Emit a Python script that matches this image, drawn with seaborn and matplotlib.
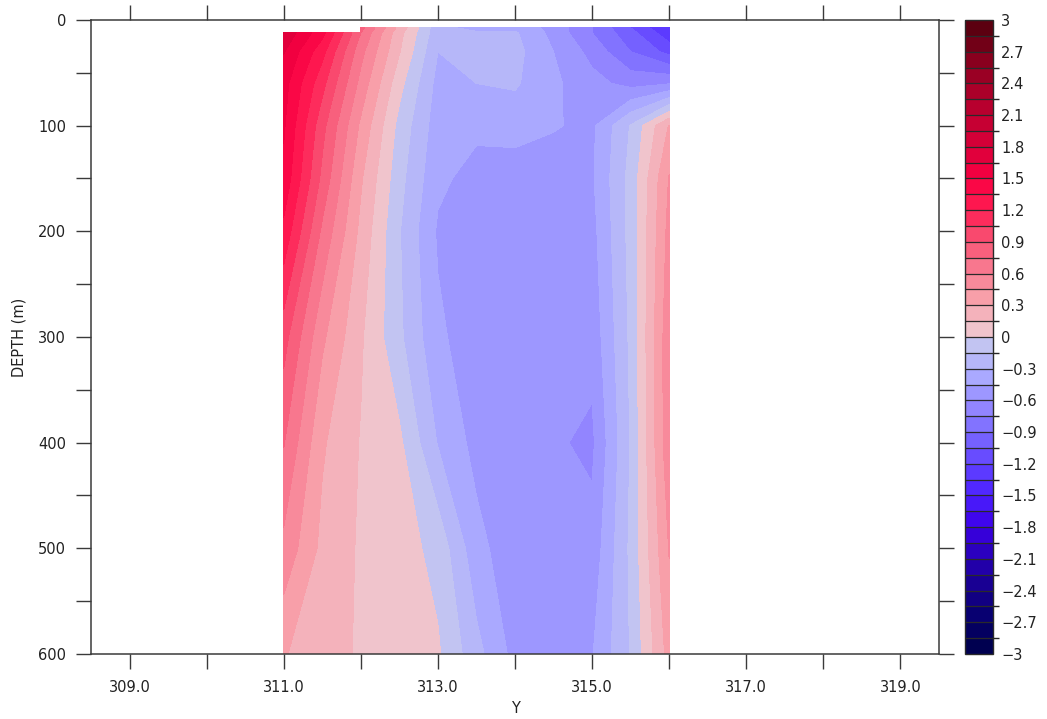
import numpy as np
import matplotlib
matplotlib.use("Agg")
import matplotlib.pyplot as plt
import seaborn as sns

# ---- section coordinates ----
y_pos = [311.0, 311.5, 312.0, 312.5, 313.0, 313.5, 314.0, 314.5, 315.0, 315.5, 316.0]
depth = [7.5, 12, 30, 60, 100, 150, 200, 300, 400, 500, 600]

# ---- field values, one row per depth level (NaN = no data) ----
nan = np.nan
row_d7 = [nan, nan, 0.80, 0.25, -0.25, -0.35, -0.35, -0.50, -0.75, -1.05, -1.35]
row_d12 = [1.77, 1.40, 0.75, 0.20, -0.25, -0.28, -0.28, -0.50, -0.75, -1.00, -1.30]
row_d30 = [1.66, 1.25, 0.65, 0.16, -0.30, -0.25, -0.25, -0.45, -0.65, -0.90, -1.10]
row_d60 = [1.56, 1.10, 0.55, 0.05, -0.35, -0.30, -0.28, -0.42, -0.55, -0.65, -0.61]
row_d100 = [1.52, 0.95, 0.42, -0.05, -0.38, -0.42, -0.40, -0.44, -0.48, -0.14, 0.31]
row_d150 = [1.46, 0.86, 0.32, -0.10, -0.42, -0.50, -0.52, -0.52, -0.47, -0.10, 0.46]
row_d200 = [1.31, 0.72, 0.26, -0.14, -0.47, -0.55, -0.56, -0.56, -0.50, -0.10, 0.50]
row_d300 = [0.96, 0.48, 0.17, -0.12, -0.42, -0.54, -0.57, -0.58, -0.55, -0.12, 0.56]
row_d400 = [0.76, 0.32, 0.14, 0.03, -0.31, -0.50, -0.57, -0.58, -0.63, -0.14, 0.56]
row_d500 = [0.56, 0.26, 0.13, 0.07, -0.05, -0.40, -0.55, -0.57, -0.55, -0.12, 0.46]
row_d600 = [0.31, 0.22, 0.13, 0.08, 0.02, -0.25, -0.50, -0.55, -0.46, -0.14, 0.36]

# ---- shading levels and colour anchors (every 0.3 from -3 to 0, then 0 to 3) ----
levels = np.round(np.arange(-3.0, 3.0001, 0.15), 2)
blue_anchors = ["#000050", "#080070", "#180090", "#2800b8", "#3c00e8", "#4c20ff",
                "#6040ff", "#7866ff", "#9488ff", "#aaaaff", "#c2c4f2"]
red_anchors = ["#f0c4cc", "#f8a0aa", "#f87a90", "#f85072", "#ff1c52", "#f80042",
               "#dc003a", "#c20032", "#a80028", "#88001e", "#5c0010"]
tick_values = levels[::2]

sns.set_theme(style="ticks")
plt.rcParams["font.family"] = ["DejaVu Sans"]
frame_color = "#3a3a3a"
text_color = "#222222"

# 20 blue + 20 red shades, one per 0.15 band
neg = sns.blend_palette(blue_anchors, n_colors=20)
pos = sns.blend_palette(red_anchors, n_colors=20)
cmap = matplotlib.colors.ListedColormap(list(neg) + list(pos))
norm = matplotlib.colors.BoundaryNorm(levels, cmap.N)

Z = np.ma.masked_invalid(np.array([row_d7, row_d12, row_d30, row_d60, row_d100,
                                   row_d150, row_d200, row_d300, row_d400,
                                   row_d500, row_d600], dtype=float))
X, D = np.meshgrid(y_pos, depth)

fig = plt.figure(figsize=(10.47, 7.19), dpi=100)
ax = fig.add_axes([0.0869, 0.0904, 0.8099, 0.8818])
cax = fig.add_axes([0.9217, 0.0904, 0.0267, 0.8818])

cs = ax.contourf(X, D, Z, levels=levels, cmap=cmap, norm=norm, corner_mask=False)

ax.set_xlim(308.5, 319.5)
ax.set_ylim(600, 0)
ax.set_xticks(np.arange(309, 320, 2))
ax.set_xticklabels([f"{v:.1f}" for v in np.arange(309, 320, 2)])
ax.set_xticks(np.arange(310, 320, 2), minor=True)
ax.set_yticks(np.arange(0, 601, 100))
ax.set_yticks(np.arange(50, 600, 100), minor=True)
for which in ("major", "minor"):
    ax.tick_params(axis="both", which=which, direction="out", length=11,
                   width=1.0, color=frame_color, top=True, right=True,
                   labeltop=False, labelright=False)
ax.tick_params(axis="x", which="major", labelsize=10.5, pad=8, labelcolor=text_color)
ax.tick_params(axis="y", which="major", labelsize=10.5, pad=7, labelcolor=text_color)
for sp in ax.spines.values():
    sp.set_color(frame_color)
    sp.set_linewidth(1.1)
ax.set_xlabel("Y", fontsize=10.5, color=text_color, labelpad=4)
ax.set_ylabel("DEPTH (m)", fontsize=10.5, color=text_color, labelpad=8)

cb = fig.colorbar(cs, cax=cax, drawedges=True)
cb.dividers.set_color("#2a2a2a")
cb.dividers.set_linewidth(0.9)
cb.outline.set_edgecolor("#2a2a2a")
cb.outline.set_linewidth(1.0)
cb.set_ticks(tick_values)


def fmt(v):
    if abs(v) < 1e-9:
        return "0"
    if abs(abs(v) - 3) < 1e-9:
        s = "3"
    else:
        s = f"{abs(v):.1f}"
    return ("\u2212" + s) if v < 0 else s


cb.set_ticklabels([fmt(v) for v in tick_values])
cax.tick_params(length=0, labelsize=10.5, pad=6, labelcolor=text_color)

fig.savefig("out.png", dpi=100, facecolor="white")
